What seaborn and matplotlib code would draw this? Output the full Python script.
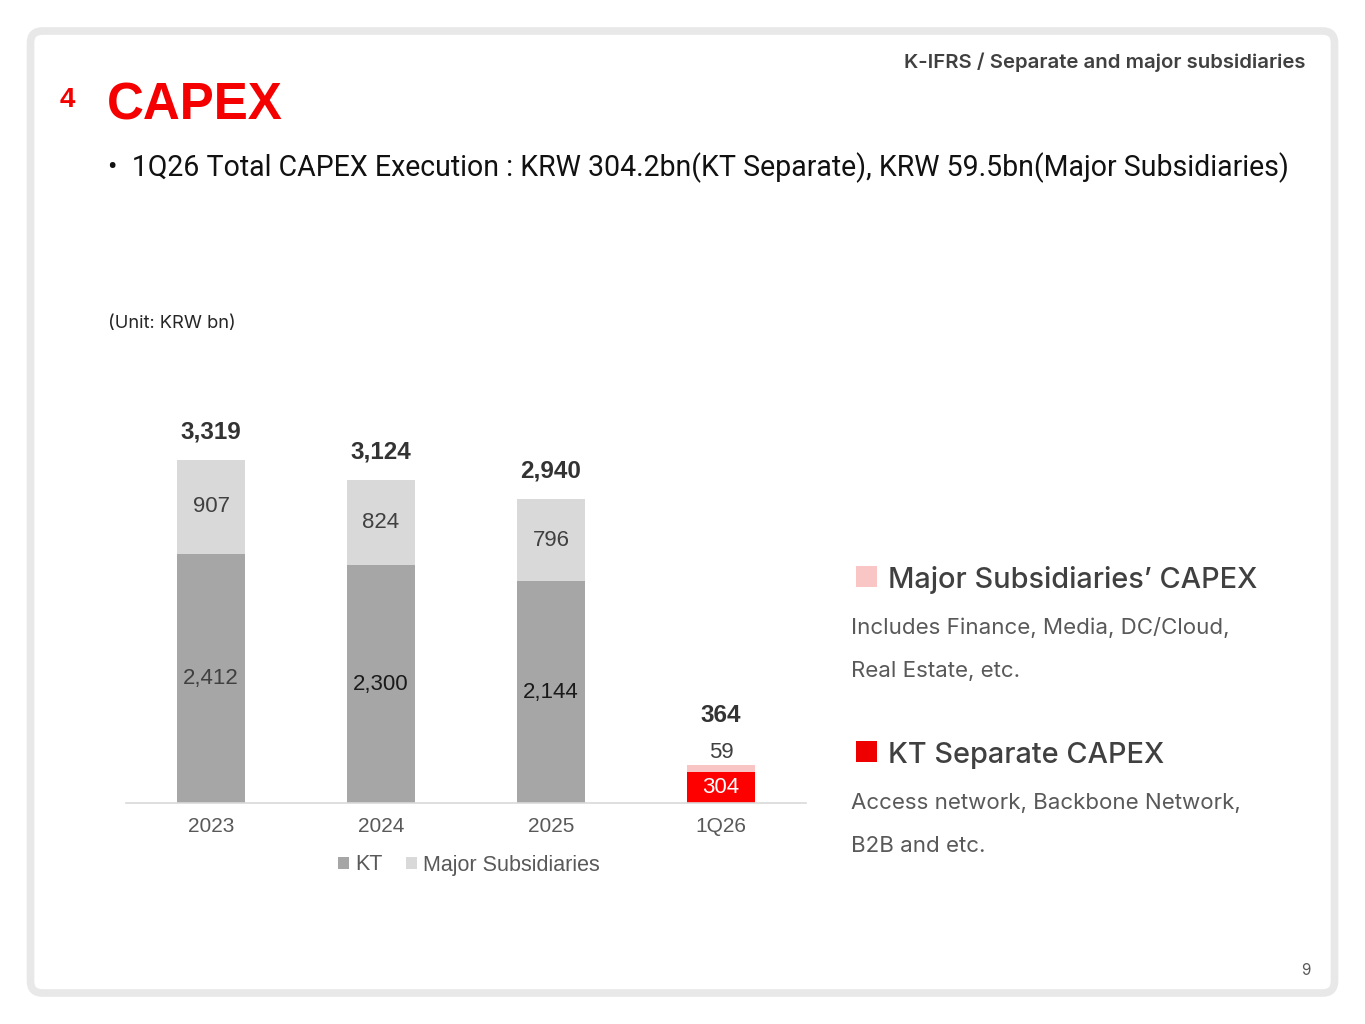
import matplotlib
matplotlib.use("Agg")
import matplotlib.pyplot as plt
import seaborn as sns
import pandas as pd
from matplotlib.patches import FancyBboxPatch, Rectangle, Patch
from matplotlib import font_manager as fm

# ---------------- data ----------------
periods = ["2023", "2024", "2025", "1Q26"]
kt_capex = [2412, 2300, 2144, 304]
subs_capex = [907, 824, 796, 59]
total_capex = [3319, 3124, 2940, 364]
legend_labels = ["KT", "Major Subsidiaries"]

# ---------------- fonts ----------------
names = {f.name for f in fm.fontManager.ttflist}
NARROW = "Liberation Sans Narrow" if "Liberation Sans Narrow" in names else "Liberation Sans"
UI = "Inter" if "Inter" in names else "DejaVu Sans"
BULLET = "Roboto" if "Roboto" in names else UI
TITLE = "Liberation Sans"

sns.set_theme(style="white")
plt.rcParams["font.family"] = [UI, "DejaVu Sans"]

W, H = 1365, 1024
fig = plt.figure(figsize=(W / 100, H / 100), dpi=100)
fig.patch.set_facecolor("white")

# background axes in pixel coordinates
bg = fig.add_axes([0, 0, 1, 1])
bg.set_xlim(0, W)
bg.set_ylim(H, 0)
bg.axis("off")
bg.set_zorder(-1)

bg.add_patch(FancyBboxPatch((30.5, 31), 1304, 962,
                            boxstyle="round,pad=0,rounding_size=12",
                            fill=False, ec="#E8E8E8", lw=5.5))

# ---------------- chart ----------------
ax = fig.add_axes([126 / W, (H - 803) / H, 680 / W, 403 / H])
ax.patch.set_alpha(0)

df = pd.DataFrame({"period": periods, "kt": kt_capex,
                   "subs": subs_capex, "total": total_capex})
sub_pal = dict(zip(periods, ["#D9D9D9", "#D9D9D9", "#D9D9D9", "#F8C4C4"]))
kt_pal = dict(zip(periods, ["#A6A6A6", "#A6A6A6", "#A6A6A6", "#FF0000"]))

sns.barplot(data=df, x="period", y="total", hue="period", palette=sub_pal,
            width=0.4, saturation=1, legend=False, errorbar=None,
            linewidth=0, ax=ax)
sns.barplot(data=df, x="period", y="kt", hue="period", palette=kt_pal,
            width=0.4, saturation=1, legend=False, errorbar=None,
            linewidth=0, ax=ax)

ax.set_xlim(-0.5, 3.5)
ax.set_ylim(0, 3900)
ax.set_xlabel("")
ax.set_ylabel("")
ax.set_yticks([])
for s in ["left", "right", "top"]:
    ax.spines[s].set_visible(False)
ax.spines["bottom"].set_color("#D9D9D9")
ax.spines["bottom"].set_linewidth(1.2)
ax.tick_params(axis="x", length=0, pad=10, labelsize=15, labelcolor="#595959")
for lbl in ax.get_xticklabels():
    lbl.set_fontfamily(NARROW)

kt_label_colors = ["#404040", "#1A1A1A", "#1A1A1A", "#FFFFFF"]
px_per_unit = 403 / 3900
for i in range(len(periods)):
    kt = kt_capex[i]
    sb = subs_capex[i]
    tot = total_capex[i]
    ax.text(i, kt / 2, f"{kt:,}", ha="center", va="center", fontsize=16,
            family=NARROW, color=kt_label_colors[i])
    seg_px = (tot - kt) * px_per_unit
    if seg_px > 20:
        ax.text(i, kt + (tot - kt) / 2, f"{sb:,}", ha="center", va="center",
                fontsize=16, family=NARROW, color="#404040")
        ax.annotate(f"{tot:,}", (i, tot), xytext=(0, 20), textcoords="offset points",
                    ha="center", va="center", fontsize=17.5, fontweight="bold",
                    family=NARROW, color="#333333")
    else:
        ax.annotate(f"{sb:,}", (i, tot), xytext=(0, 2), textcoords="offset points",
                    ha="center", va="bottom", fontsize=16,
                    family=NARROW, color="#404040")
        ax.annotate(f"{tot:,}", (i, tot), xytext=(0, 36), textcoords="offset points",
                    ha="center", va="center", fontsize=17.5, fontweight="bold",
                    family=NARROW, color="#333333")

handles = [Patch(fc="#A6A6A6", ec="none"), Patch(fc="#D9D9D9", ec="none")]
leg = ax.legend(handles, legend_labels, loc="center",
                bbox_to_anchor=(469 / W, 1 - 865 / H), bbox_transform=fig.transFigure,
                ncol=2, frameon=False, handlelength=0.5, handleheight=0.5,
                handletextpad=0.3, columnspacing=1.1,
                prop={"family": NARROW, "size": 15.5})
for t in leg.get_texts():
    t.set_color("#595959")

# ---------------- slide texts ----------------
RED = "#F50000"
t4 = bg.text(60, 107, "4", color=RED, fontsize=20, fontweight="bold",
             family=TITLE, ha="left", va="baseline")
tcap = bg.text(107, 120, "CAPEX", color=RED, fontsize=38, fontweight="bold",
               family=TITLE, ha="left", va="baseline")
ttop = bg.text(1306, 68, "K-IFRS / Separate and major subsidiaries", color="#404040",
               fontsize=14, fontweight="semibold", family=UI, ha="right", va="baseline")
tbul = bg.text(108, 176,
               "\u2022  1Q26 Total CAPEX Execution : KRW 304.2bn(KT Separate), KRW 59.5bn(Major Subsidiaries)",
               color="#111111", fontsize=22, family=[BULLET, "DejaVu Sans"],
               ha="left", va="baseline")
tunit = bg.text(108, 328, "(Unit: KRW bn)", color="#262626", fontsize=13,
                family=UI, ha="left", va="baseline")

bg.add_patch(Rectangle((856, 566), 21, 21, fc="#F9C5C5", ec="none"))
bg.add_patch(Rectangle((856, 741), 21, 21, fc="#EE0000", ec="none"))
th1 = bg.text(888, 588, "Major Subsidiaries\u2019 CAPEX", color="#404040",
              fontsize=22, fontweight="medium", family=UI, ha="left", va="baseline")
th2 = bg.text(888, 763, "KT Separate CAPEX", color="#404040",
              fontsize=22, fontweight="medium", family=UI, ha="left", va="baseline")
d1 = bg.text(851, 634, "Includes Finance, Media, DC/Cloud,", color="#595959",
             fontsize=17, family=UI, ha="left", va="baseline")
d2 = bg.text(851, 677, "Real Estate, etc.", color="#595959",
             fontsize=17, family=UI, ha="left", va="baseline")
d3 = bg.text(851, 809, "Access network, Backbone Network,", color="#595959",
             fontsize=17, family=UI, ha="left", va="baseline")
d4 = bg.text(851, 852, "B2B and etc.", color="#595959",
             fontsize=17, family=UI, ha="left", va="baseline")
pg = bg.text(1311, 975, "9", color="#595959", fontsize=11, family=UI,
             ha="right", va="baseline")

fig.canvas.draw()
renderer = fig.canvas.get_renderer()


def fit(t, width_px):
    bb = t.get_window_extent(renderer)
    t.set_fontsize(t.get_fontsize() * width_px / bb.width)
    return t.get_fontsize()


fit(tcap, 176)
fit(ttop, 401)
fit(tbul, 1179)
fit(tunit, 128)
s = fit(th1, 369)
th2.set_fontsize(s)
s = fit(d1, 378)
for t in (d2, d3, d4):
    t.set_fontsize(s)

fig.savefig("out.png", dpi=100, facecolor="white")
